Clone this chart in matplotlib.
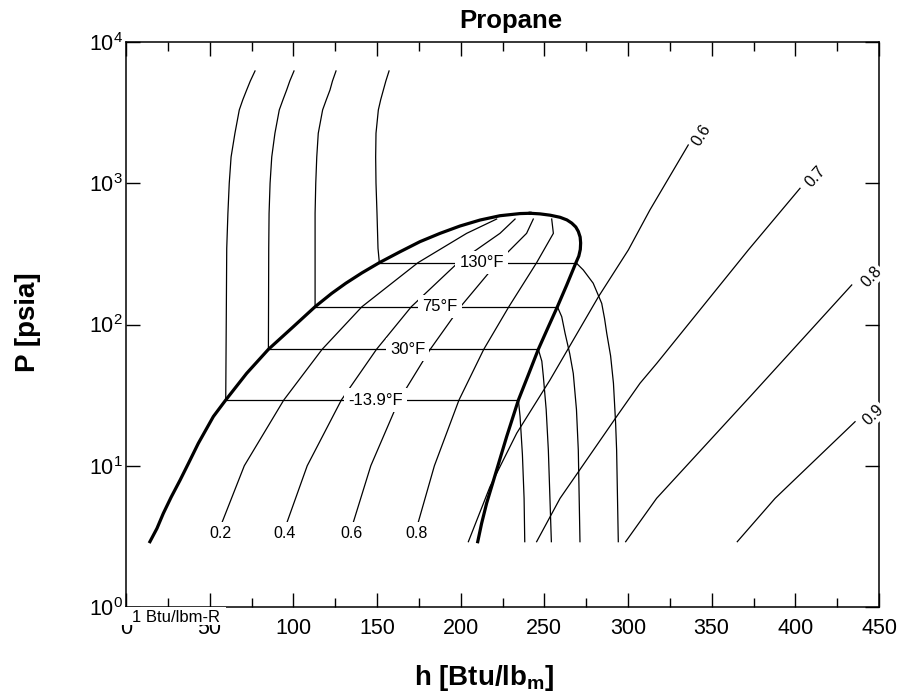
import numpy as np
import matplotlib
matplotlib.use('Agg')
import matplotlib.pyplot as plt
from matplotlib.ticker import MultipleLocator, NullLocator, LogLocator
from matplotlib.patches import Rectangle

plt.rcParams['font.family'] = ['Liberation Sans', 'DejaVu Sans']
plt.rcParams['mathtext.fontset'] = 'custom'
plt.rcParams['mathtext.rm'] = 'Liberation Sans'
plt.rcParams['mathtext.it'] = 'Liberation Sans:italic'
plt.rcParams['mathtext.bf'] = 'Liberation Sans:bold'

# saturation dome (liquid side up to critical point, then vapour side down)
h_liq = [14.3, 18.5, 22.3, 27.0, 32.3, 37.5, 43.2, 52.2, 59.6, 72.1, 85.1,
         100.0, 113.0, 122.9, 131.4, 141.0, 151.4, 163.7, 175.7, 187.7,
         199.6, 211.6, 223.5, 235.5, 241.5]
P_liq = [2.9, 3.6, 4.6, 6.0, 7.9, 10.5, 14.4, 22.3, 29.2, 45.1, 66.7,
         96.5, 133.6, 166, 196, 232, 274, 327, 386, 442,
         498, 549, 589, 610, 613]
h_vap = [241.5, 247.4, 253.5, 259.4, 263.5, 266.4, 268.8, 270.3, 271.4,
         271.7, 271.5, 270.6, 268.9, 263.4, 257.8, 252.0, 246.4, 240.4,
         234.5, 227.5, 221.5, 215.5, 212.5, 210.2]
P_vap = [613, 607, 594, 574, 550, 522, 490, 456, 416,
         378, 340, 305, 274, 190.5, 133.6, 94, 66.7, 43.9,
         29.2, 16.1, 9.33, 5.42, 3.9, 2.9]

# isotherms: compressed liquid branch, dome plateau, superheated branch
T_names = ['-13.9°F', '30°F', '75°F', '130°F']
T_psat = [29.2, 66.7, 133.6, 274]
T_hf = [59.6, 85.1, 113.0, 151.4]
T_hg = [234.5, 246.4, 257.8, 268.9]
T_label_h = [149.3, 168.2, 187.6, 212.6]

liq_P = [6237, 5300, 4571, 3900, 3304, 2259, 1535, 1000, 612, 346]
liq_h = [
    [77.1, 74.3, 72.1, 69.8, 67.7, 65.1, 62.8, 61.7, 60.9, 60.2],
    [100.4, 97.9, 96.0, 93.8, 91.6, 89.0, 87.1, 86.1, 85.5, 85.3],
    [125.5, 123.4, 121.9, 119.7, 117.5, 114.9, 114.0, 113.4, 113.0, 113.0],
    [157.2, 155.3, 153.8, 152.2, 150.8, 149.4, 149.2, 149.4, 150.0, 150.6],
]

sup_P = [
    [29.2, 22.3, 12.0, 5.88, 2.9],
    [66.7, 55, 43, 25, 12.9, 2.9],
    [133.6, 113.5, 86.6, 62, 45, 25, 12.9, 2.9],
    [274, 243, 196, 141, 110, 86.6, 60, 38.4, 20, 12.9, 2.9],
]
sup_h = [
    [234.5, 235.5, 236.9, 237.9, 238.3],
    [246.4, 248.5, 249.4, 251.1, 252.4, 254.2],
    [257.8, 260.4, 262.4, 265.2, 267.3, 269.2, 270.3, 271.3],
    [268.9, 273.3, 279.2, 284.3, 286.0, 287.3, 289.6, 291.3, 292.6, 293.2, 294.2],
]

# lines of constant quality
q_names = ['0.2', '0.4', '0.6', '0.8']
q_P = [4.0, 10, 29.2, 66.7, 133.6, 274, 442, 558]
q_h = [
    [57.5, 70.7, 94.3, 117.2, 141.0, 174.5, 203.6, 221.5],
    [96.3, 108.3, 128.7, 149.7, 170.5, 198.4, 223.5, 232.5],
    [135.9, 146.3, 163.2, 181.8, 199.9, 221.9, 239.4, 243.4],
    [174.7, 184.3, 199.0, 213.8, 228.8, 245.4, 255.4, 254.4],
]
q_label_h = [56.2, 95.0, 134.9, 173.7]
q_label_P = 3.32

# isentropes [Btu/lbm-R]
s_names = ['0.6', '0.7', '0.8', '0.9']
s_h = [
    [204.6, 217.5, 233.5, 253.4, 282.3, 300.2, 313.1, 336.0],
    [245.4, 259.4, 293.2, 307.2, 317.2, 371.9, 402.8],
    [298.6, 317.1, 372.9, 433.7],
    [365.3, 387.9, 435.7],
]
s_P = [
    [2.9, 7.1, 17, 40.5, 157, 337, 647, 1866],
    [2.9, 5.88, 22.3, 38.4, 53.1, 337, 921],
    [2.9, 5.88, 30.8, 190.5],
    [2.9, 5.88, 20.5],
]
s_label_h = [344.0, 411.8, 445.6, 446.6]
s_label_P = [2197, 1112, 218, 22.9]
s_label_rot = [58, 48, 47, 44]

W, H = 901, 697
fig = plt.figure(figsize=(W / 100, H / 100), dpi=100)
ax = fig.add_axes([126 / W, 1 - 607 / H, 753 / W, 565 / H])

thin = 0.9
ax.plot(h_liq, P_liq, color='k', lw=2.3, zorder=4, solid_joinstyle='round')
ax.plot(h_vap, P_vap, color='k', lw=2.3, zorder=4, solid_joinstyle='round')

lab_box = dict(boxstyle='square,pad=0.25', fc='white', ec='none')
for i in range(len(T_names)):
    ax.plot(liq_h[i] + [T_hf[i]], liq_P + [T_psat[i]], color='k', lw=thin)
    ax.plot([T_hf[i], T_hg[i]], [T_psat[i], T_psat[i]], color='k', lw=thin)
    ax.plot(sup_h[i], sup_P[i], color='k', lw=thin)
    ax.text(T_label_h[i], T_psat[i], T_names[i], fontsize=12, ha='center',
            va='center', bbox=lab_box, zorder=5)

for i in range(len(q_names)):
    ax.plot(q_h[i], q_P, color='k', lw=thin)
    ax.text(q_label_h[i], q_label_P, q_names[i], fontsize=11.5, ha='center',
            va='center', bbox=lab_box, zorder=5)

for i in range(len(s_names)):
    ax.plot(s_h[i], s_P[i], color='k', lw=thin)
    ax.text(s_label_h[i], s_label_P[i], s_names[i], fontsize=11.5,
            ha='center', va='center', rotation=s_label_rot[i],
            rotation_mode='anchor', bbox=dict(boxstyle='square,pad=0.1', fc='white', ec='none'),
            zorder=5, clip_on=False)

ax.set_xlim(0, 450)
ax.set_yscale('log')
ax.set_ylim(1, 1e4)
ax.xaxis.set_major_locator(MultipleLocator(50))
ax.xaxis.set_minor_locator(MultipleLocator(25))
ax.yaxis.set_major_locator(LogLocator(base=10, numticks=10))
ax.yaxis.set_minor_locator(NullLocator())
ax.tick_params(which='both', direction='in', top=True, right=True, width=1)
ax.tick_params(which='major', length=10, labelsize=15.5)
ax.tick_params(which='minor', length=6.5)
ax.tick_params(axis='x', pad=8)
ax.tick_params(axis='y', pad=2.5)
for sp in ax.spines.values():
    sp.set_linewidth(1.1)

fig.text(511 / W, 1 - 28.3 / H, 'Propane', fontsize=18.5, fontweight='bold',
         ha='center', va='baseline')
fig.text(484 / W, 1 - 678 / H, r'h [Btu/lb$_{\mathbf{m}}$]', fontsize=20,
         fontweight='bold', ha='center', va='center')
fig.text(28 / W, 1 - 321.7 / H, 'P [psia]', fontsize=20, fontweight='bold',
         rotation=90, ha='center', va='center')

# unit label at lower left, on a white patch that hides the axis there
fig.add_artist(Rectangle((118 / W, 1 - 625 / H), 108 / W, 18 / H,
                         transform=fig.transFigure, fc='white', ec='none', zorder=2))
fig.text(131.7 / W, 1 - 621.7 / H, '1 Btu/lbm-R', fontsize=12, ha='left',
         va='baseline', zorder=3)

fig.savefig('out.png', dpi=100)
